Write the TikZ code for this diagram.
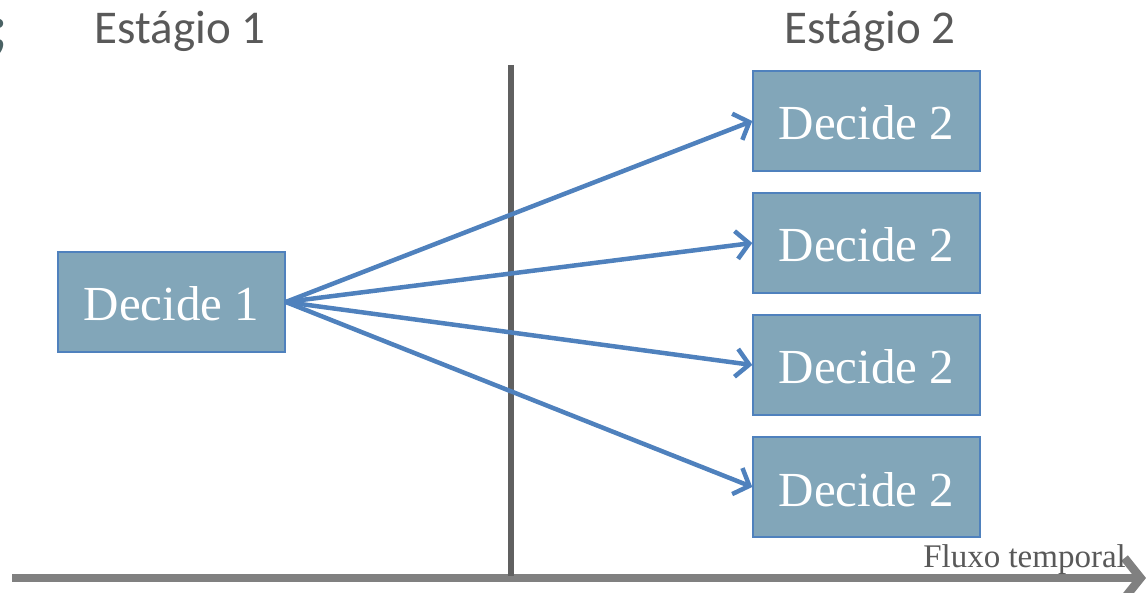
\documentclass[tikz,border=0pt]{standalone}
\usepackage{fontspec}
\setmainfont{Liberation Serif}
\newfontfamily\labelfont{Carlito}
\usetikzlibrary{arrows.meta}
\definecolor{boxfill}{RGB}{130,166,185}
\definecolor{boxline}{RGB}{79,129,189}
\definecolor{arrowblue}{RGB}{79,129,189}
\definecolor{textgray}{RGB}{89,89,89}
\definecolor{divider}{RGB}{96,96,96}
\definecolor{axisgray}{RGB}{128,128,128}
\definecolor{markdark}{RGB}{74,98,100}
\tikzset{
  decision/.style={draw=boxline, line width=1.5pt, fill=boxfill, minimum width=227pt,
    minimum height=100pt, inner sep=0pt, text height=38pt, text depth=0pt,
    text=white, font=\fontsize{49}{52}\selectfont},
  stagelabel/.style={text=textgray, font=\labelfont\fontsize{47}{50}\selectfont, inner sep=0pt},
  branch/.style={draw=arrowblue, line width=4.5pt, -{Straight Barb[length=13pt,width=28pt,line width=4.5pt]}},
}
\begin{document}
\begin{tikzpicture}[x=1pt,y=-1pt]
\useasboundingbox (0,0) rectangle (1146,593);
% timeline and stage divider
\coordinate (axisL) at (12,578);
\coordinate (axisR) at (1146,578);
\draw[axisgray, line width=8.5pt, -{Straight Barb[length=16pt,width=40pt,line width=8.5pt]}] (axisL) -- (axisR);
\coordinate (divTop) at (511,65);
\coordinate (divBot) at (511,576);
\draw[divider, line width=6pt] (divTop) -- (divBot);
% headings
\node[text=markdark, font=\labelfont\bfseries\fontsize{62}{66}\selectfont, anchor=east, inner sep=0pt] (mark) at (8,38) {;};
\node[stagelabel] (s1) at (180,31) {Estágio 1};
\node[stagelabel] (s2) at (870,31) {Estágio 2};
\node[text=textgray, font=\fontsize{33}{36}\selectfont, anchor=base east, inner sep=0pt] (flux) at (1126,567) {Fluxo temporal};
% decision boxes
\node[decision] (d1) at (171.5,302) {Decide 1};
\node[decision] (a) at (866.5,121) {Decide 2};
\node[decision] (b) at (866.5,243) {Decide 2};
\node[decision] (c) at (866.5,365) {Decide 2};
\node[decision] (d) at (866.5,487) {Decide 2};
% branches
\draw[branch] (d1.east) -- (a.west);
\draw[branch] (d1.east) -- (b.west);
\draw[branch] (d1.east) -- (c.west);
\draw[branch] (d1.east) -- (d.west);
\end{tikzpicture}
\end{document}
